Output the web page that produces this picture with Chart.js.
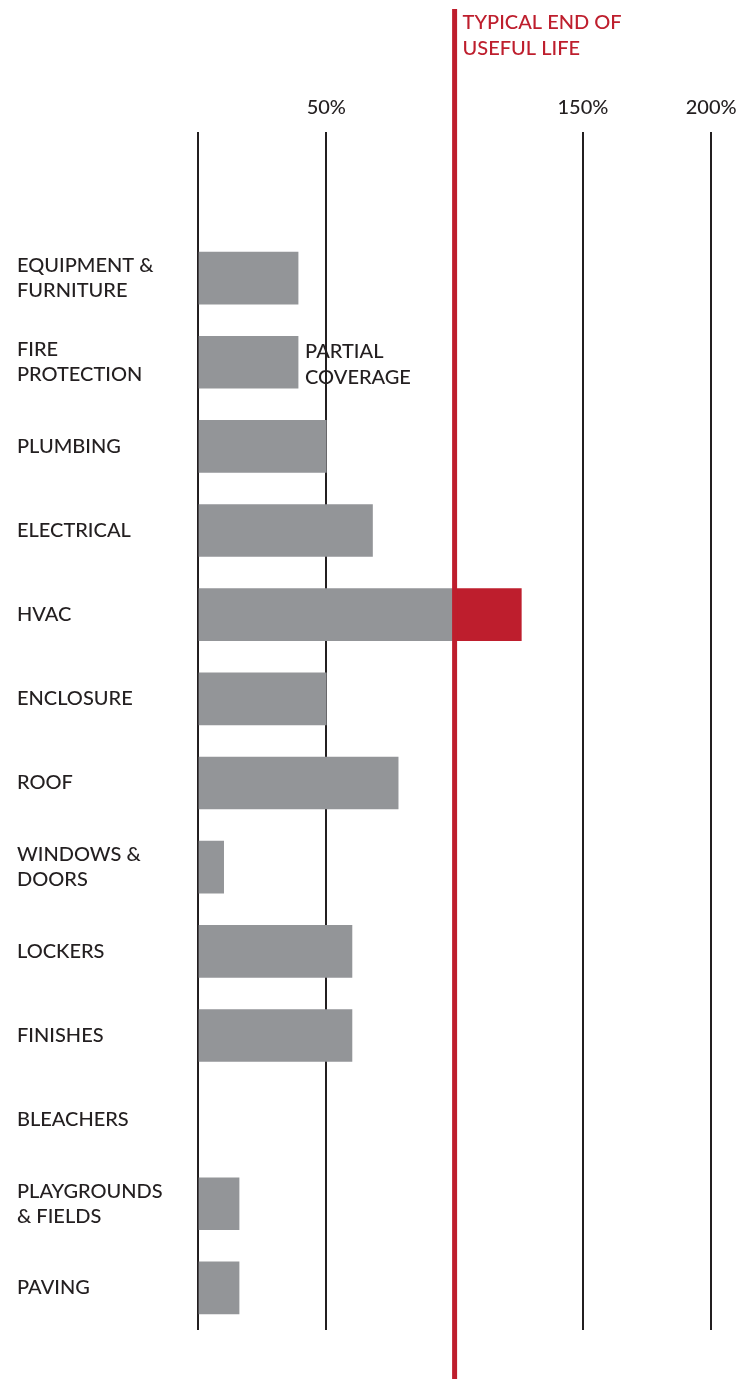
<!DOCTYPE html>
<html>
<head>
<meta charset="utf-8">
<script src="https://cdn.jsdelivr.net/npm/chart.js@4/dist/chart.umd.min.js"></script>
<style>
  html, body { margin: 0; padding: 0; background: #ffffff; }
  #wrap { width: 749px; height: 1379px; }
</style>
</head>
<body>
<div id="wrap"><canvas id="c" width="749" height="1379"></canvas></div>
<script>
const categories = [
  ['EQUIPMENT &', 'FURNITURE'],
  ['FIRE', 'PROTECTION'],
  'PLUMBING',
  'ELECTRICAL',
  'HVAC',
  'ENCLOSURE',
  'ROOF',
  ['WINDOWS &', 'DOORS'],
  'LOCKERS',
  'FINISHES',
  'BLEACHERS',
  ['PLAYGROUNDS', '& FIELDS'],
  'PAVING'
];
const lifeUsed = [39, 39, 50, 68, 100, 50, 78, 10, 60, 60, null, 16, 16];
const beyondLife = [null, null, null, null, 26, null, null, null, null, null, null, null, null];
const tickValues = [0, 50, 150, 200];
const tickLabels = ['', '50%', '150%', '200%'];
const typicalEndOfLife = 100;
const endLabel = ['TYPICAL END OF', 'USEFUL LIFE'];
const partialLabel = ['PARTIAL', 'COVERAGE'];
const partialIndex = 1;

const FONT = 'Lato';
const WEIGHT = '500';
const DARK = '#231F20';
const GRAY = '#939598';
const RED = '#BE1E2D';

const overlay = {
  id: 'overlay',
  afterDatasetsDraw(chart) {
    const ctx = chart.ctx;
    const xs = chart.scales.x, ys = chart.scales.y;
    const xl = xs.getPixelForValue(typicalEndOfLife);
    ctx.save();
    ctx.fillStyle = RED;
    ctx.fillRect(xl - 2.5, 9, 5, chart.height - 9);
    ctx.font = WEIGHT + ' 20px ' + FONT;
    ctx.textBaseline = 'alphabetic';
    ctx.textAlign = 'left';
    ctx.fillText(endLabel[0], xl + 8, 29);
    ctx.fillText(endLabel[1], xl + 8, 55);
    const px = xs.getPixelForValue(lifeUsed[partialIndex]) + 7;
    const py = ys.getPixelForValue(partialIndex);
    ctx.fillStyle = DARK;
    ctx.fillText(partialLabel[0], px, py - 4);
    ctx.fillText(partialLabel[1], px, py + 22);
    ctx.restore();
  }
};

new Chart(document.getElementById('c'), {
  type: 'bar',
  data: {
    labels: categories,
    datasets: [
      { data: lifeUsed, backgroundColor: GRAY, barThickness: 52, borderWidth: 0 },
      { data: beyondLife, backgroundColor: RED, barThickness: 52, borderWidth: 0 }
    ]
  },
  options: {
    indexAxis: 'y',
    responsive: false,
    animation: false,
    devicePixelRatio: 1,
    layout: { padding: { left: 17, right: 6, top: 84, bottom: 49 } },
    plugins: { legend: { display: false }, tooltip: { enabled: false } },
    scales: {
      x: {
        position: 'top',
        stacked: true,
        min: 0,
        max: 212,
        afterBuildTicks(scale) { scale.ticks = tickValues.map(v => ({ value: v })); },
        ticks: {
          autoSkip: false,
          maxRotation: 0,
          padding: 12,
          color: DARK,
          font: { family: FONT, size: 20, weight: WEIGHT },
          callback(value) { const i = tickValues.indexOf(value); return i >= 0 ? tickLabels[i] : ''; }
        },
        grid: { color: DARK, lineWidth: 2, tickLength: 104, drawOnChartArea: true },
        border: { display: false }
      },
      y: {
        stacked: true,
        afterFit(scale) { scale.width = 181; },
        ticks: {
          crossAlign: 'far',
          color: DARK,
          font: { family: FONT, size: 20, weight: WEIGHT, lineHeight: 1.25 }
        },
        grid: { display: false },
        border: { display: false }
      }
    }
  },
  plugins: [overlay]
});
</script>
</body>
</html>
